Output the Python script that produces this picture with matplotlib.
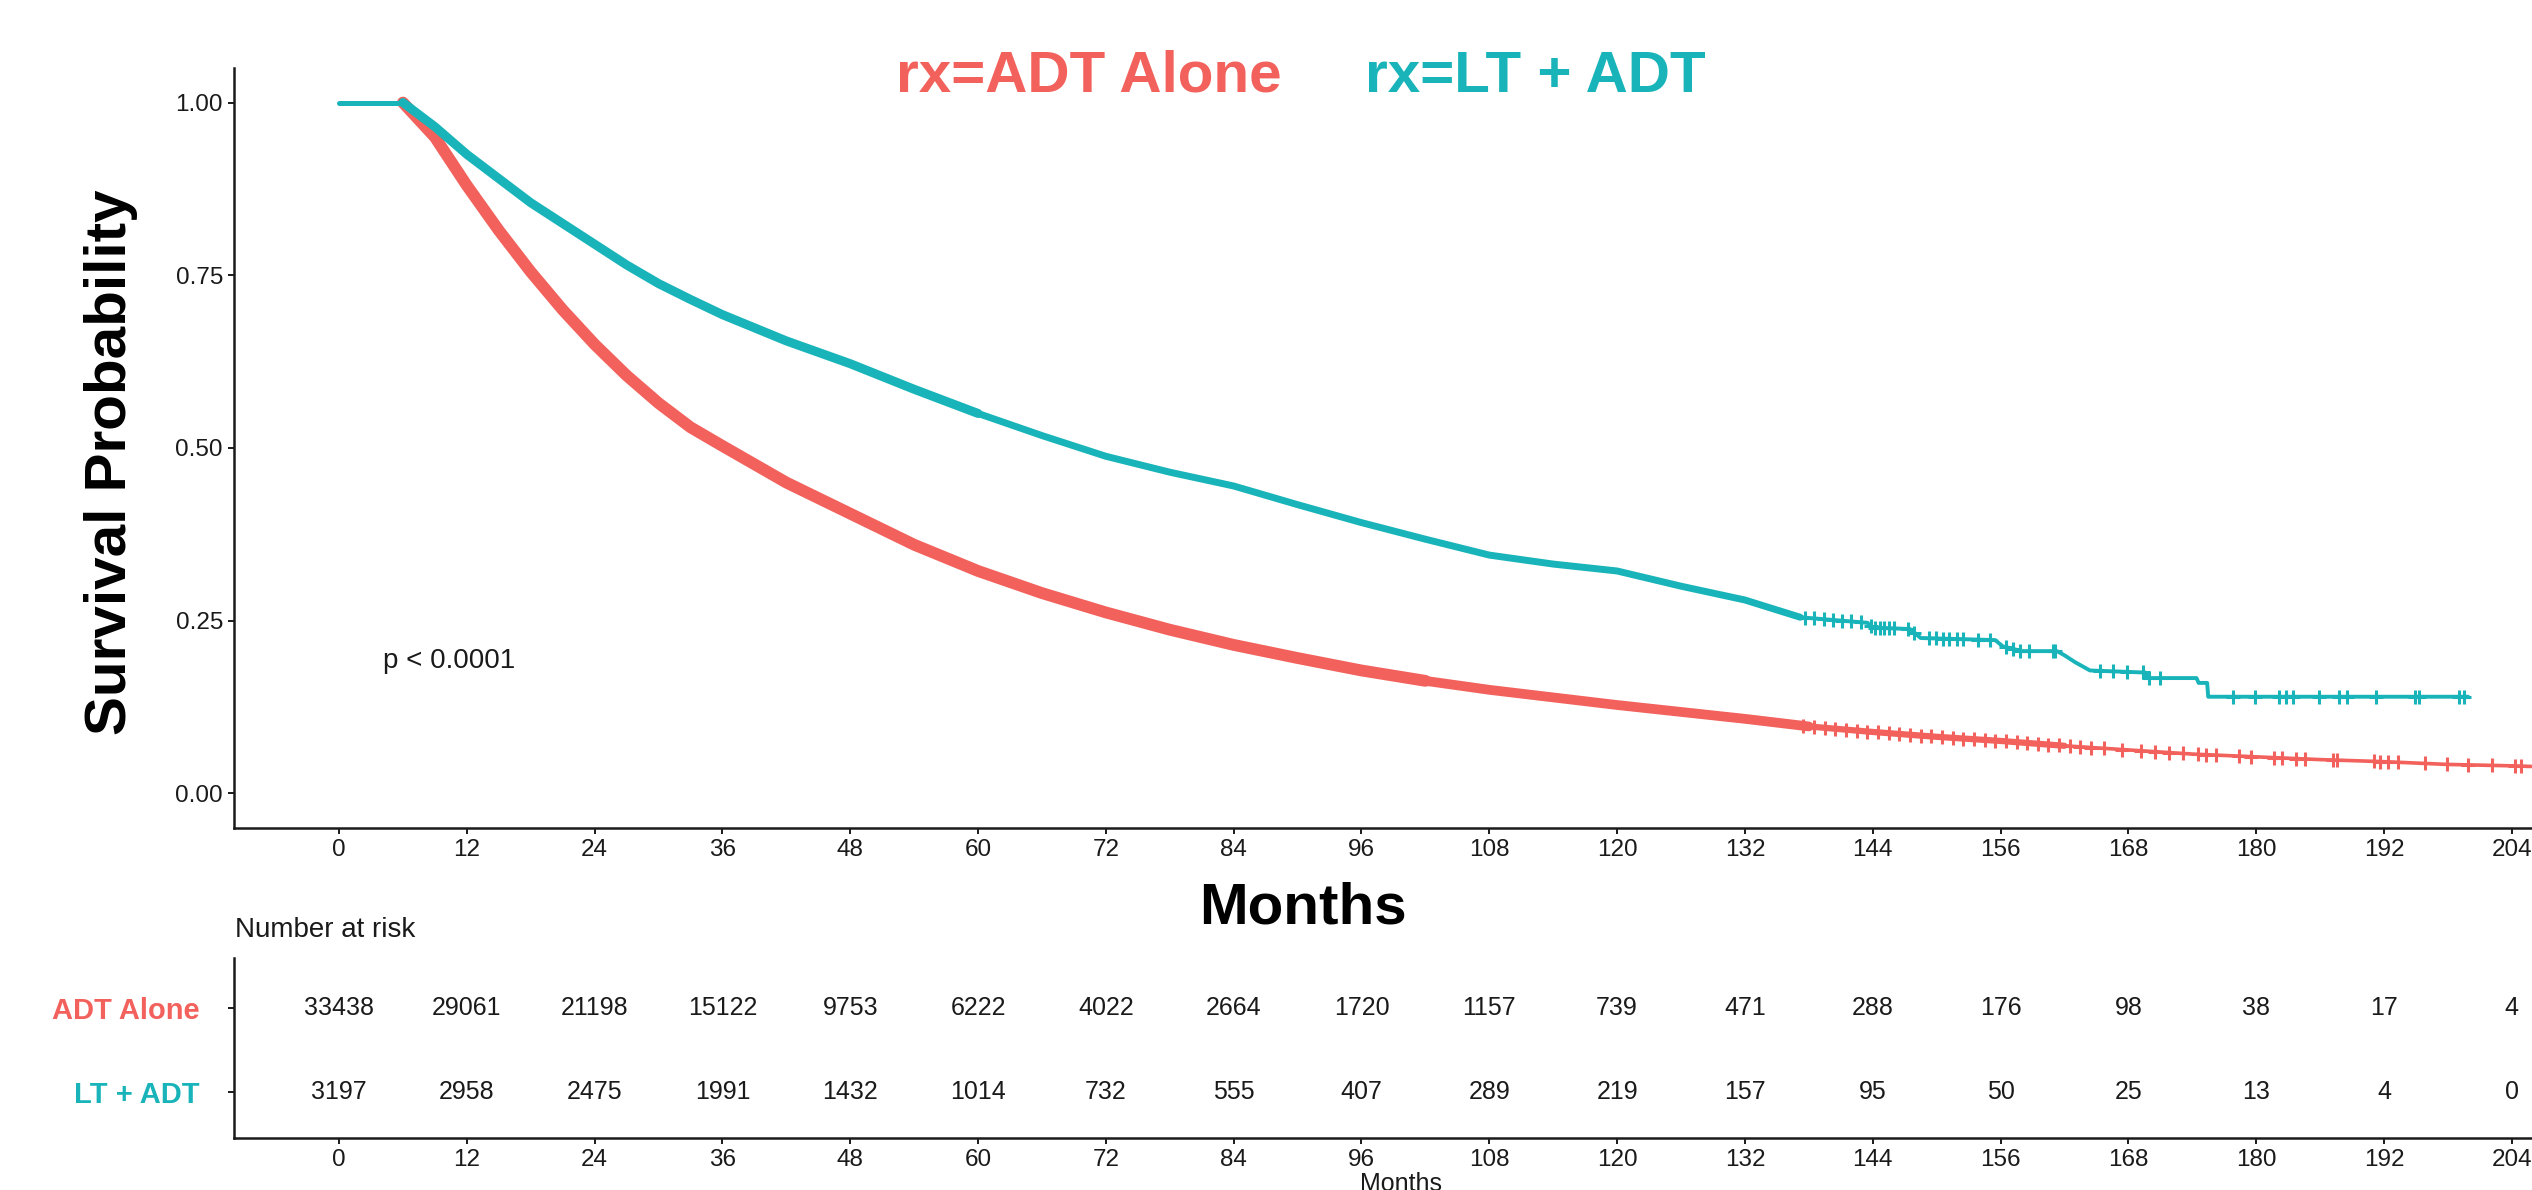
import matplotlib
matplotlib.use('Agg')
import matplotlib.pyplot as plt
import numpy as np

plt.rcParams['font.family'] = ['Liberation Sans', 'DejaVu Sans']

W, H = 2532, 1190
RED = '#F2615C'
TEAL = '#18B4B9'
INK = '#1a1a1a'

# ---------------- data ----------------
groups = ['ADT Alone', 'LT + ADT']
legend_labels = ['rx=ADT Alone', 'rx=LT + ADT']

adt_time = [0, 6, 9, 12, 15, 18, 21, 24, 27, 30, 33, 36, 42, 48, 54, 60, 66, 72, 78, 84,
            90, 96, 102, 108, 114, 120, 126, 132, 138, 144, 150, 156, 162, 168, 174, 180,
            186, 192, 198, 204, 206]
adt_surv = [1.0, 1.0, 0.95, 0.88, 0.815, 0.755, 0.70, 0.65, 0.605, 0.565, 0.53, 0.503,
            0.45, 0.405, 0.36, 0.322, 0.29, 0.262, 0.237, 0.215, 0.196, 0.178, 0.163, 0.15,
            0.139, 0.128, 0.118, 0.108, 0.097, 0.089, 0.082, 0.076, 0.069, 0.063, 0.057,
            0.053, 0.049, 0.046, 0.042, 0.04, 0.039]

lt_time = [0, 6, 9, 12, 15, 18, 21, 24, 27, 30, 33, 36, 42, 48, 54, 60, 66, 72, 78, 84, 90,
           96, 102, 108, 114, 120, 126, 132, 137.2, 143.5, 144, 147.5, 148.5, 155.5, 156.2,
           158, 161.3, 162, 163, 164.4, 169.6, 169.8, 174.4, 174.6, 175.4, 175.5, 199.9]
lt_surv = [1.0, 1.0, 0.965, 0.925, 0.89, 0.855, 0.825, 0.795, 0.765, 0.738, 0.715, 0.693,
           0.655, 0.622, 0.585, 0.55, 0.518, 0.488, 0.465, 0.445, 0.418, 0.392, 0.368,
           0.345, 0.332, 0.322, 0.30, 0.28, 0.255, 0.247, 0.24, 0.238, 0.225, 0.222, 0.213,
           0.206, 0.206, 0.2, 0.19, 0.178, 0.175, 0.167, 0.167, 0.16, 0.16, 0.14, 0.14]

adt_censor = [137.5, 138.5, 139.5, 140.5, 141.5, 142.5, 143.5, 144.5, 145.5, 146.5, 147.5,
              148.5, 149.5, 150.5, 151.5, 152.5, 153.5, 154.5, 155.5, 156.5, 157.5, 158.5,
              159.5, 160.5, 161.5, 162.5, 163.5, 164.5,
              165.7, 167.4, 169.2, 170.5, 171.8, 173.1, 174.5, 175.3, 176.2, 178.4, 179.5,
              181.7, 182.4, 183.7, 184.6, 187.2, 187.6, 191.1, 191.6, 192.4, 193.3, 195.9,
              197.9, 199.9, 202.1, 204.3, 204.9]
lt_censor = [137.6, 138.5, 139.4, 140.3, 141.1, 142.0, 142.9, 143.8, 144.2, 144.7, 145.1,
             145.5, 146.0, 147.3, 147.9, 149.3, 149.9, 150.6, 151.2, 151.9, 152.5, 153.9,
             155.0, 156.5, 157.2, 157.8, 158.7, 160.9, 161.1, 165.3, 166.6, 167.9, 169.4,
             169.9, 171.0, 177.8, 179.9, 182.1, 182.8, 183.5, 185.9, 187.8, 188.5, 191.3,
             194.9, 195.3, 199.0, 199.5]

risk_times = [0, 12, 24, 36, 48, 60, 72, 84, 96, 108, 120, 132, 144, 156, 168, 180, 192, 204]
adt_risk = [33438, 29061, 21198, 15122, 9753, 6222, 4022, 2664, 1720, 1157, 739, 471, 288,
            176, 98, 38, 17, 4]
lt_risk = [3197, 2958, 2475, 1991, 1432, 1014, 732, 555, 407, 289, 219, 157, 95, 50, 25,
           13, 4, 0]

x_ticks = risk_times
y_ticks = [0.0, 0.25, 0.5, 0.75, 1.0]
y_tick_labels = ['0.00', '0.25', '0.50', '0.75', '1.00']
p_text = 'p < 0.0001'
p_pos = (4.1, 0.182)

# ---------------- figure ----------------
fig = plt.figure(figsize=(W / 100, H / 100), dpi=100)
fig.patch.set_facecolor('white')

XL = (-9.86, 205.9)


def px_rect(left, top, right, bottom):
    return [left / W, 1 - bottom / H, (right - left) / W, (bottom - top) / H]


ax = fig.add_axes(px_rect(234, 68, W, 828))
tab = fig.add_axes(px_rect(234, 958, W, 1138))


def style_axes(a):
    for s in ['top', 'right']:
        a.spines[s].set_visible(False)
    for s in ['left', 'bottom']:
        a.spines[s].set_linewidth(1.8)
        a.spines[s].set_color(INK)
    a.tick_params(axis='both', length=4.5, width=1.4, color=INK, labelcolor=INK,
                  labelsize=17.5, pad=3.5)
    a.set_xlim(*XL)
    a.set_xticks(x_ticks)
    a.set_xticklabels([str(v) for v in x_ticks])


style_axes(ax)
style_axes(tab)

ax.set_ylim(-0.05, 1.05)
ax.set_yticks(y_ticks)
ax.set_yticklabels(y_tick_labels)


def draw_curve(t, s, color, segments, censor):
    t = np.asarray(t, float)
    s = np.asarray(s, float)
    for lo, hi, lw in segments:
        m = (t >= lo) & (t <= hi)
        ax.plot(t[m], s[m], color=color, lw=lw, solid_capstyle='round',
                solid_joinstyle='round', zorder=2)
    c = np.asarray(censor, float)
    ax.plot(c, np.interp(c, t, s), ls='none', marker='+', ms=10, mew=2.2,
            color=color, zorder=3)


draw_curve(adt_time, adt_surv, RED,
           [(0, 6, 2.5), (6, 102, 8.5), (102, 138, 7.0), (138, 162, 4.5), (162, 207, 2.6)],
           adt_censor)
draw_curve(lt_time, lt_surv, TEAL,
           [(0, 6, 3.6), (6, 60, 6.5), (60, 137.2, 5.0), (137.2, 200, 2.8)], lt_censor)

ax.text(p_pos[0], p_pos[1], p_text, fontsize=20, color=INK, ha='left', va='baseline')

# legend-style title
fig.text(896 / W, 1 - 92 / H, legend_labels[0], color=RED, fontsize=42,
         fontweight='bold', ha='left', va='baseline')
fig.text(1365 / W, 1 - 92 / H, legend_labels[1], color=TEAL, fontsize=42,
         fontweight='bold', ha='left', va='baseline')

# axis titles
fig.text(126 / W, 1 - 462 / H, 'Survival Probability', rotation=90,
         rotation_mode='anchor', ha='center', va='baseline', fontsize=42,
         fontweight='bold', color='black')
fig.text(1303 / W, 1 - 924 / H, 'Months', ha='center', va='baseline', fontsize=42,
         fontweight='bold', color='black')

# ---------------- risk table ----------------
tab.set_ylim(0.46, 2.59)
tab.set_yticks([2, 1])
tab.set_yticklabels(groups)
for lbl, col in zip(tab.get_yticklabels(), [RED, TEAL]):
    lbl.set_color(col)
    lbl.set_fontweight('bold')
    lbl.set_fontsize(21)
tab.tick_params(axis='y', pad=20)
for t, a, l in zip(risk_times, adt_risk, lt_risk):
    tab.text(t, 2, str(a), ha='center', va='center', fontsize=18, color=INK)
    tab.text(t, 1, str(l), ha='center', va='center', fontsize=18, color=INK)

fig.text(235 / W, 1 - 930 / H, 'Number at risk', ha='left', va='center', fontsize=20,
         color=INK)
fig.text(1401 / W, 1 - 1172 / H, 'Months', ha='center', va='top', fontsize=18,
         color=INK)

fig.savefig('out.png', dpi=100, facecolor='white')
